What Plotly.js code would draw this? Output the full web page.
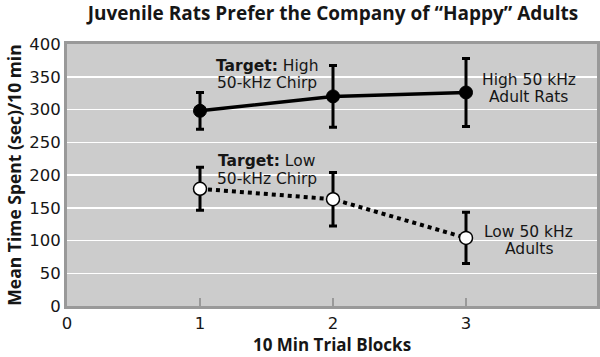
<!DOCTYPE html>
<html><head><meta charset="utf-8">
<script src="https://cdn.plot.ly/plotly-3.0.1.min.js"></script>
<style>html,body{margin:0;padding:0;background:#fff}#c{width:600px;height:357px}</style>
</head><body><div id="c"></div>
<script>
const blocks = [1, 2, 3];
const highMean = [298, 320, 326];
const highErr = [28, 47, 52];
const lowMean = [179, 163, 104];
const lowErr = [33, 41, 39];
const xTicks = [0, 1, 2, 3];
const yTicks = [0, 50, 100, 150, 200, 250, 300, 350, 400];

const FB = '"Open Sans", "DejaVu Sans", sans-serif';
const FR = '"DejaVu Sans", sans-serif';
const C = '#161616';
const traces = [
  {x: blocks, y: highMean, type: 'scatter', mode: 'lines+markers',
   line: {color: '#000', width: 3.5},
   marker: {color: '#000', size: 13, line: {color: '#000', width: 1}},
   error_y: {type: 'data', array: highErr, visible: true, color: '#000', thickness: 3, width: 4}},
  {x: blocks, y: lowMean, type: 'scatter', mode: 'lines+markers',
   line: {color: '#000', width: 4, dash: 'dot'},
   marker: {color: '#fff', size: 13, line: {color: '#000', width: 1.5}},
   error_y: {type: 'data', array: lowErr, visible: true, color: '#000', thickness: 3, width: 4}}
];
function ann(x, y, text) {
  return {x: x, y: y, text: text, showarrow: false, xanchor: 'center', yanchor: 'middle',
          font: {family: FR, size: 15.5, color: C}};
}
const layout = {
  width: 600, height: 357,
  margin: {l: 67, r: 3, t: 44, b: 51},
  paper_bgcolor: '#fff', plot_bgcolor: '#cccccc',
  showlegend: false,
  title: {text: '<b>Juvenile Rats Prefer the Company of “Happy” Adults</b>', x: 0.555, xanchor: 'center', y: 0.962, yanchor: 'middle', font: {family: FB, size: 19, color: C}},
  xaxis: {range: [0, 3.985], tickvals: xTicks, ticktext: xTicks.map(String), showgrid: false, zeroline: false,
    ticks: 'inside', ticklen: 8, tickwidth: 2, tickcolor: '#999',
    showline: true, linecolor: '#999', linewidth: 3, mirror: true,
    tickfont: {family: FR, size: 16.5, color: C},
    title: {text: '<b>10 Min Trial Blocks</b>', font: {family: FB, size: 17, color: C}, standoff: 8}},
  yaxis: {range: [0, 400], tickvals: yTicks, showgrid: true, gridcolor: '#fff', gridwidth: 1.5, zeroline: false,
    ticks: '', showline: true, linecolor: '#999', linewidth: 3, mirror: true,
    tickfont: {family: FR, size: 16.5, color: C},
    title: {text: '<b>Mean Time Spent (sec)/10 min</b>', font: {family: FB, size: 17.5, color: C}, standoff: 4}},
  annotations: [
    ann(1.50, 366, '<b>Target:</b> High'),
    ann(1.50, 341, '50-kHz Chirp'),
    ann(1.50, 221, '<b>Target:</b> Low'),
    ann(1.50, 194, '50-kHz Chirp'),
    ann(3.47, 345, 'High 50 kHz'),
    ann(3.47, 319, 'Adult Rats'),
    ann(3.47, 113, 'Low 50 kHz'),
    ann(3.47, 87, 'Adults')
  ]
};
Plotly.newPlot('c', traces, layout, {staticPlot: true, displayModeBar: false});
</script></body></html>
